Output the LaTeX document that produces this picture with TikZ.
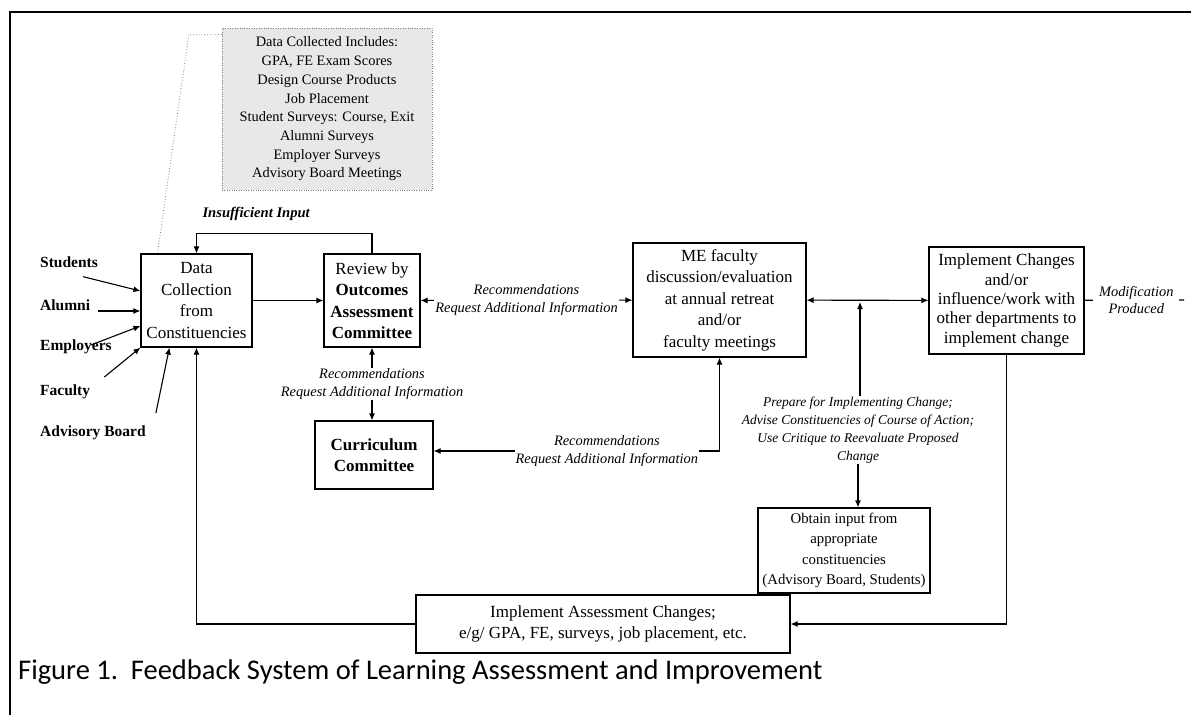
\documentclass[tikz,border=0pt]{standalone}
\usepackage{fontspec}
\setmainfont{Liberation Serif}
\newfontfamily\capfont{Carlito}
\usetikzlibrary{arrows.meta, positioning}

\begin{document}
\begin{tikzpicture}[x=1pt, y=-1pt,
			box/.style={rectangle, draw, line width=1.1pt, align=center, fill=white,
					inner sep=2pt, font=\fontsize{17}{21.5}\selectfont},
			infobox/.style={rectangle, draw=gray, dotted, fill=black!9, align=center,
					font=\fontsize{14.4}{18.7}\selectfont},
			source/.style={anchor=west, inner sep=0pt, font=\fontsize{15.5}{18}\selectfont\bfseries},
			note/.style={fill=white, align=center, inner sep=1pt,
					font=\fontsize{14.4}{17.5}\selectfont\itshape},
			arrow/.style={line width=1.1pt, -{Latex[length=7pt, width=6pt]}},
			twoway/.style={line width=1.1pt, {Latex[length=7pt, width=6pt]}-{Latex[length=7pt, width=6pt]}},
		]
		\useasboundingbox (0,0) rectangle (1191,715);

		% --- Frame ---
		\draw [line width=2pt] (10,715) -- (10,12) -- (1191,12);

		% --- Nodes ---
		\node (incl) [infobox, minimum width=210pt, minimum height=162pt] at (327,109)
			{Data Collected Includes:\\GPA, FE Exam Scores\\Design Course Products\\Job Placement\\
			 Student Surveys: Course, Exit\\Alumni Surveys\\Employer Surveys\\Advisory Board Meetings};
		\node (dc)   [box, minimum width=111pt, minimum height=93pt] at (196.5,300.5)
			{Data\\Collection\\from\\Constituencies};
		\node (rev)  [box, minimum width=96pt, minimum height=93pt] at (372,300.5)
			{Review by\\\textbf{Outcomes}\\\textbf{Assessment}\\\textbf{Committee}};
		\node (cc)   [box, font=\fontsize{17}{21.5}\selectfont\bfseries,
			minimum width=118pt, minimum height=68pt] at (374,455) {Curriculum\\Committee};
		\node (me)   [box, minimum width=173pt, minimum height=114pt] at (719.5,300)
			{ME faculty\\discussion/evaluation\\at annual retreat\\and/or\\faculty meetings};
		\node (impl) [box, font=\fontsize{17}{19.3}\selectfont,
			minimum width=155pt, minimum height=107pt] at (1006.5,300.5)
			{Implement Changes\\and/or\\influence/work with\\other departments to\\implement change};
		\node (obt)  [box, font=\fontsize{14.8}{20.5}\selectfont, inner xsep=0.5pt,
			minimum width=172pt, minimum height=85pt] at (844,550.5)
			{Obtain input from\\appropriate\\constituencies\\(Advisory Board, Students)};
		\node (ia)   [box, font=\fontsize{17}{20.5}\selectfont,
			minimum width=374pt, minimum height=58pt] at (603,624)
			{Implement Assessment Changes;\\e/g/ GPA, FE, surveys, job placement, etc.};

		% constituencies feeding the data collection
		\node (stu) [source] at (40,262) {Students};
		\node (alu) [source] at (40,305) {Alumni};
		\node (emp) [source] at (40,347) {Employers};
		\node (fac) [source] at (40,392) {Faculty};
		\node (adv) [source] at (40,433) {Advisory Board};

		\node (prep) [note, font=\fontsize{13.5}{18}\selectfont\itshape] at (858,430)
			{Prepare for Implementing Change;\\Advise Constituencies of Course of Action;\\
			 Use Critique to Reevaluate Proposed\\Change};
		\coordinate (jn) at (860,300);
		\coordinate (mend) at (1184,300);

		% --- Inputs ---
		\draw [dotted, gray, thick] ([yshift=-7pt]incl.north west) -- ++(-33,0) -- ([xshift=17pt]dc.north west);
		\draw [arrow] ([xshift=-15pt,yshift=-9pt]stu.south east) -- ([yshift=9.5pt]dc.west);
		\draw [arrow] ([xshift=8pt,yshift=-6pt]alu.east) -- ([yshift=-10.5pt]dc.west);
		\draw [arrow] ([xshift=-21pt,yshift=2pt]emp.east) -- ([yshift=-25.5pt]dc.west);
		\draw [arrow] ([xshift=14pt,yshift=15pt]fac.east) -- (dc.south west);
		\draw [arrow] ([xshift=10pt,yshift=20pt]adv.east) -- ([xshift=29pt]dc.south west);

		% --- Review loop ---
		\draw [arrow] (dc) -- (rev);
		\draw [arrow] (rev.north) -- ++(0,-20) -| node[pos=0.33, above=9pt,
			font=\fontsize{14.6}{17}\selectfont\bfseries\itshape]{Insufficient Input} (dc.north);
		\draw [twoway] (rev) -- node[note]{Recommendations\\Request Additional Information} (me);
		\draw [twoway] (rev.south) -- node[note]{Recommendations\\Request Additional Information}
			(rev.south |- cc.north);
		\draw [twoway] ([yshift=4pt]cc.east) -- node[note, pos=0.606]{Recommendations\\Request Additional Information}
			(me.south |- 0,451) -- (me.south);

		% --- Implementation ---
		\draw [twoway] (me) -- (impl);
		\draw [arrow] (prep.north -| jn) -- ([yshift=-2pt]jn);
		\draw [arrow] (prep.south) -- (prep.south |- obt.north);
		\draw [line width=1.1pt] (impl) -- node[note, pos=0.52, inner xsep=6pt]{Modification\\Produced} (mend);
		\draw [arrow] (impl.south) |- (ia.east);
		\draw [arrow] (ia.west) -| (dc.south);

		\node (cap) [anchor=base west, inner sep=0pt, font=\capfont\fontsize{28.5}{32}\selectfont] at (18,679)
			{Figure 1.\ \ Feedback System of Learning Assessment and Improvement};
	\end{tikzpicture}
\end{document}
